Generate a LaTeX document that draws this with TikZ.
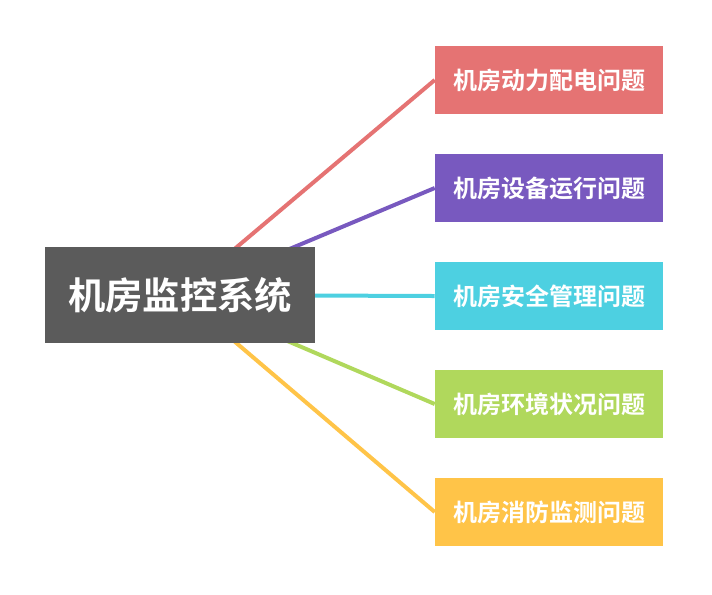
\documentclass[tikz,border=0pt]{standalone}
\usepackage{fontspec}
\newfontfamily\cjk{Noto Sans CJK SC}[BoldFont={Noto Sans CJK SC Bold}]
\definecolor{cgray}{HTML}{5B5B5B}
\definecolor{cred}{HTML}{E57373}
\definecolor{cpurple}{HTML}{7859BF}
\definecolor{ccyan}{HTML}{4DD0E1}
\definecolor{cgreen}{HTML}{B0D85C}
\definecolor{cyellow}{HTML}{FFC448}
\begin{document}
\begin{tikzpicture}[x=0.75pt,y=-0.75pt,
  mainbox/.style={fill=cgray,text=white,minimum width=270*0.75pt,minimum height=96*0.75pt,inner sep=0pt,font=\cjk\bfseries\fontsize{28}{32}\selectfont},
  subbox/.style={fill=#1,text=white,minimum width=228*0.75pt,minimum height=68*0.75pt,inner sep=0pt,font=\cjk\bfseries\fontsize{18}{22}\selectfont},
  link/.style={draw=#1,line width=3pt}]
\useasboundingbox (0,0) rectangle (712,594);
\node[subbox=cred] (a) at (549,80) {机房动力配电问题};
\node[subbox=cpurple] (b) at (549,188) {机房设备运行问题};
\node[subbox=ccyan] (c) at (549,296) {机房安全管理问题};
\node[subbox=cgreen] (d) at (549,404) {机房环境状况问题};
\node[subbox=cyellow] (e) at (549,512) {机房消防监测问题};
\coordinate (m) at (180,295);
\draw[link=cred] (m) -- (a.west);
\draw[link=cpurple] (m) -- (b.west);
\draw[link=ccyan] (m) -- (c.west);
\draw[link=cgreen] (m) -- (d.west);
\draw[link=cyellow] (m) -- (e.west);
\node[mainbox] (main) at (m) {机房监控系统};
\end{tikzpicture}
\end{document}
